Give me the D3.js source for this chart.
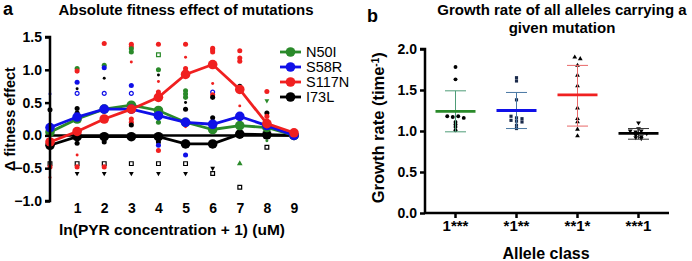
<!DOCTYPE html>
<html>
<head>
<meta charset="utf-8">
<script src="https://cdn.jsdelivr.net/npm/d3@7"></script>
<style>
  body { margin: 0; background: #fff; }
  text { font-family: "Liberation Sans", Arial, sans-serif; }
</style>
</head>
<body>
<div id="chart"></div>
<script>
// Panel a data: mean fitness effect per ln(PYR + 1)
const concentrations = [0, 1, 2, 3, 4, 5, 6, 7, 8, 9];
const n50i  = [0.05, 0.25, 0.40, 0.46, 0.38, 0.20, 0.09, 0.15, 0.12, 0.00];
const s58r  = [0.12, 0.28, 0.40, 0.40, 0.30, 0.20, 0.17, 0.29, 0.15, 0.00];
const s117n = [-0.10, 0.06, 0.25, 0.40, 0.58, 0.93, 1.08, 0.70, 0.18, 0.04];
const i73l  = [-0.15, -0.02, -0.02, -0.02, -0.02, -0.13, -0.13, 0.02, 0.01, 0.00];
const mutationNames = ["N50I", "S58R", "S117N", "I73L"];

// individual alleles: [concentration, value, mutation, marker]
const replicatePoints = [
  [0, 0.39, "I73L", "dot"], [0, 0.63, "S58R", "small"], [0, -0.43, "I73L", "square"],
  [0, -0.48, "S117N", "dot"], [0, -0.64, "S117N", "small"],
  [1, 1.02, "N50I", "dot"], [1, 0.98, "S117N", "dot"], [1, 0.81, "S58R", "dot"],
  [1, 0.71, "I73L", "small"], [1, 0.64, "S58R", "open"], [1, 0.41, "I73L", "dot"],
  [1, 0.34, "I73L", "dot"], [1, -0.12, "I73L", "dot"], [1, -0.30, "S117N", "small"],
  [1, -0.43, "I73L", "square"], [1, -0.48, "S117N", "dot"], [1, -0.58, "I73L", "tri"],
  [2, 1.40, "S117N", "dot"], [2, 1.07, "N50I", "dot"], [2, 1.03, "S58R", "dot"],
  [2, 0.87, "I73L", "small"], [2, 0.64, "S58R", "open"], [2, 0.40, "I73L", "dot"],
  [2, -0.10, "I73L", "dot"], [2, -0.43, "I73L", "square"], [2, -0.48, "S117N", "dot"],
  [2, -0.58, "I73L", "tri"],
  [3, 1.39, "S117N", "dot"], [3, 1.35, "S117N", "dot"], [3, 1.32, "N50I", "dot"],
  [3, 1.27, "N50I", "dot"], [3, 1.12, "S117N", "small"], [3, 0.76, "S58R", "dot"],
  [3, 0.64, "S58R", "open"], [3, 0.38, "I73L", "dot"], [3, 0.25, "S117N", "dot"],
  [3, 0.20, "S117N", "dot"], [3, 0.16, "I73L", "dot"], [3, -0.43, "I73L", "square"],
  [3, -0.58, "I73L", "tri"],
  [4, 1.39, "S117N", "dot"], [4, 1.23, "N50I", "square"], [4, 1.00, "N50I", "dot"],
  [4, 0.92, "I73L", "small"], [4, 0.82, "S117N", "small"], [4, 0.66, "S117N", "dot"],
  [4, 0.38, "I73L", "dot"], [4, 0.20, "N50I", "dot"], [4, -0.10, "I73L", "dot"],
  [4, -0.15, "S58R", "dot"], [4, -0.23, "S117N", "dot"], [4, -0.43, "I73L", "square"],
  [4, -0.58, "I73L", "tri"],
  [5, 1.39, "S117N", "dot"], [5, 1.19, "S117N", "small"], [5, 1.02, "S117N", "dot"],
  [5, 0.97, "S117N", "dot"], [5, 0.68, "N50I", "dot"], [5, 0.63, "N50I", "dot"],
  [5, 0.58, "N50I", "dot"], [5, 0.50, "I73L", "small"], [5, 0.40, "I73L", "dot"],
  [5, 0.13, "S117N", "small"], [5, -0.10, "S58R", "dot"], [5, -0.30, "S58R", "dot"],
  [5, -0.43, "I73L", "square"], [5, -0.58, "I73L", "tri"],
  [6, 1.33, "S117N", "dot"], [6, 1.30, "S117N", "dot"], [6, 1.27, "S117N", "dot"],
  [6, 0.79, "S117N", "small"], [6, 0.66, "S58R", "open"], [6, 0.62, "S117N", "dot"],
  [6, 0.58, "I73L", "dot"], [6, 0.27, "I73L", "dot"], [6, -0.50, "I73L", "tri"],
  [6, -0.58, "I73L", "square"],
  [7, 1.29, "S117N", "dot"], [7, 1.18, "S117N", "dot"], [7, 1.13, "S117N", "dot"],
  [7, 0.75, "I73L", "dot"], [7, 0.45, "S117N", "small"], [7, -0.43, "N50I", "triup"],
  [7, -0.79, "I73L", "square"],
  [8, 0.67, "S117N", "dot"], [8, 0.53, "N50I", "tri"], [8, 0.34, "I73L", "dot"],
  [8, 0.29, "S117N", "dot"], [8, -0.08, "N50I", "small"], [8, -0.18, "I73L", "square"],
  [9, 0.06, "S117N", "dot"], [9, -0.03, "I73L", "small"]
];

// Panel b data: growth rate by allele class
const alleleClasses = ["1***", "*1**", "**1*", "***1"];
const classMeans = [1.24, 1.25, 1.44, 0.97];
const classLower = [0.99, 1.03, 1.06, 0.90];
const classUpper = [1.49, 1.47, 1.80, 1.03];
const class1Rates = [1.78, 1.63, 1.18, 1.17, 1.18, 1.16, 1.11, 1.08, 1.05, 1.01];
const class2Rates = [1.65, 1.61, 1.38, 1.18, 1.16, 1.15, 1.13, 1.12, 1.11, 1.07, 1.03];
const class3Rates = [1.90, 1.88, 1.80, 1.68, 1.55, 1.28, 1.15, 1.11, 1.02, 0.94];
const class4Rates = [1.10, 1.03, 1.00, 0.99, 1.00, 0.97, 0.95, 0.93, 0.92, 0.91];

const colors = { N50I: "#2a8a2a", S58R: "#1010e8", S117N: "#f02020", I73L: "#000000" };
const classColors = ["#2a8a2a", "#1010e8", "#f02020", "#000000"];
const barColors = ["#4f9c78", "#4a78a4", "#e86868", "#333333"];
const classShapes = [d3.symbolCircle, d3.symbolSquare, d3.symbolTriangle, d3.symbolTriangle];

const width = 692, height = 261;

const svg = d3.select("#chart").append("svg")
  .attr("width", width)
  .attr("height", height);

// ---------- Panel a ----------
const xA = d3.scaleLinear().domain([0, 9]).range([50, 294]);
const yA = d3.scaleLinear().domain([-1, 1.5]).range([201, 37]);

svg.append("text").attr("x", 3).attr("y", 15)
  .style("font-size", "18px").style("font-weight", "bold").text("a");
svg.append("text").attr("x", 186).attr("y", 15).attr("text-anchor", "middle")
  .style("font-size", "15px").style("font-weight", "bold")
  .text("Absolute fitness effect of mutations");

const gA = svg.append("g");

// replicate points
const markerSymbol = {
  dot: d3.symbolCircle, small: d3.symbolCircle, open: d3.symbolCircle,
  square: d3.symbolSquare, tri: d3.symbolTriangle, triup: d3.symbolTriangle
};
const markerSize = { dot: 20, small: 7, open: 12, square: 14, tri: 10, triup: 14 };

gA.selectAll("path.rep")
  .data(replicatePoints)
  .enter().append("path")
  .attr("class", "rep")
  .attr("d", d => d3.symbol().type(markerSymbol[d[3]]).size(markerSize[d[3]])())
  .attr("transform", d => `translate(${xA(d[0])},${yA(d[1])})` + (d[3] === "tri" ? " rotate(180)" : ""))
  .attr("fill", d => (d[3] === "open" || d[3] === "square") ? "#fff" : colors[d[2]])
  .attr("stroke", d => (d[3] === "open" || d[3] === "square") ? colors[d[2]] : "none")
  .attr("stroke-width", 1.2);

// zero line
gA.append("line")
  .attr("x1", xA(0)).attr("x2", xA(9) + 3)
  .attr("y1", yA(0)).attr("y2", yA(0))
  .attr("stroke", "#000").attr("stroke-width", 2.5);

const seriesA = [
  { name: "I73L", values: i73l },
  { name: "N50I", values: n50i },
  { name: "S58R", values: s58r },
  { name: "S117N", values: s117n }
];

const lineA = d3.line()
  .x((d, i) => xA(concentrations[i]))
  .y(d => yA(d));

seriesA.forEach(s => {
  gA.append("path")
    .datum(s.values)
    .attr("fill", "none")
    .attr("stroke", colors[s.name])
    .attr("stroke-width", 2.8)
    .attr("d", lineA);
  gA.selectAll(null)
    .data(s.values)
    .enter().append("circle")
    .attr("cx", (d, i) => xA(concentrations[i]))
    .attr("cy", d => yA(d))
    .attr("r", 4.8)
    .attr("fill", colors[s.name]);
});

// y axis
const yAxisA = gA.append("g")
  .attr("transform", `translate(${xA(0)},0)`)
  .call(d3.axisLeft(yA).tickValues([-1, -0.5, 0, 0.5, 1, 1.5]).tickFormat(d3.format(".1f")).tickSize(5).tickPadding(3));
yAxisA.select(".domain").attr("stroke-width", 2.5).attr("d", `M-5,${yA(-1)}H0V${yA(1.5)}H-5`);
yAxisA.selectAll(".tick line").attr("stroke-width", 2.5);
yAxisA.selectAll("text").style("font-size", "14px").style("font-weight", "bold")
  .style("font-family", "Liberation Sans, Arial, sans-serif");

// x tick labels (no axis line, GraphPad style)
const xAxisA = gA.append("g")
  .attr("transform", `translate(0,${yA(-1) - 2})`)
  .call(d3.axisBottom(xA).tickValues(concentrations.slice(1)).tickSize(0).tickPadding(4));
xAxisA.select(".domain").remove();
xAxisA.selectAll("text").style("font-size", "14px").style("font-weight", "bold")
  .style("font-family", "Liberation Sans, Arial, sans-serif");

svg.append("text").attr("x", 172).attr("y", 235).attr("text-anchor", "middle")
  .style("font-size", "15.5px").style("font-weight", "bold")
  .text("ln(PYR concentration + 1) (uM)");
svg.append("text")
  .attr("transform", `translate(15,${yA(0.25)}) rotate(-90)`)
  .attr("text-anchor", "middle")
  .style("font-size", "14.5px").style("font-weight", "bold")
  .text("\u0394 fitness effect");

// legend
const legend = svg.append("g").attr("transform", "translate(280,52)");
mutationNames.forEach((name, i) => {
  const row = legend.append("g").attr("transform", `translate(0,${i * 15})`);
  row.append("line").attr("x1", 0).attr("x2", 21).attr("y1", 0).attr("y2", 0)
    .attr("stroke", colors[name]).attr("stroke-width", 2.8);
  row.append("circle").attr("cx", 10.5).attr("cy", 0).attr("r", 4.8).attr("fill", colors[name]);
  row.append("text").attr("x", 26).attr("y", 5)
    .style("font-size", "14.5px").text(name);
});

// ---------- Panel b ----------
const xB = d3.scaleBand().domain(alleleClasses).range([425, 669]);
const yB = d3.scaleLinear().domain([0, 2]).range([213, 49]);

svg.append("text").attr("x", 367).attr("y", 22)
  .style("font-size", "18px").style("font-weight", "bold").text("b");
svg.append("text").attr("x", 562).attr("y", 15).attr("text-anchor", "middle")
  .style("font-size", "15px").style("font-weight", "bold")
  .text("Growth rate of all alleles carrying a");
svg.append("text").attr("x", 562).attr("y", 33).attr("text-anchor", "middle")
  .style("font-size", "15px").style("font-weight", "bold")
  .text("given mutation");

const gB = svg.append("g");
const classRates = [class1Rates, class2Rates, class3Rates, class4Rates];

// spread points sharing a similar value side by side
function spread(values) {
  const binW = 0.045;
  const bins = d3.group(values.map((v, i) => ({ v, i })), d => Math.round(d.v / binW));
  const offsets = new Array(values.length).fill(0);
  bins.forEach(items => {
    items.forEach((it, k) => { offsets[it.i] = (k - (items.length - 1) / 2) * 5.5; });
  });
  return offsets;
}

alleleClasses.forEach((c, ci) => {
  const cx = xB(c) + xB.bandwidth() / 2;
  const offs = spread(classRates[ci]);
  gB.selectAll(null)
    .data(classRates[ci])
    .enter().append("path")
    .attr("d", d3.symbol().type(classShapes[ci]).size(ci === 0 ? 12 : 10)())
    .attr("transform", (d, i) => `translate(${cx + offs[i]},${yB(d)})` + (ci === 3 ? " rotate(180)" : ""))
    .attr("fill", ci === 1 ? "#1a2a4a" : "#000");

  // error bar
  gB.append("line").attr("x1", cx).attr("x2", cx)
    .attr("y1", yB(classLower[ci])).attr("y2", yB(classUpper[ci]))
    .attr("stroke", barColors[ci]).attr("stroke-width", 1);
  [classLower[ci], classUpper[ci]].forEach(v => {
    gB.append("line").attr("x1", cx - 10.5).attr("x2", cx + 10.5)
      .attr("y1", yB(v)).attr("y2", yB(v))
      .attr("stroke", barColors[ci]).attr("stroke-width", 1);
  });
  // mean bar
  gB.append("line").attr("x1", cx - 20).attr("x2", cx + 20)
    .attr("y1", yB(classMeans[ci])).attr("y2", yB(classMeans[ci]))
    .attr("stroke", classColors[ci]).attr("stroke-width", 2.8);
});

const yAxisB = gB.append("g")
  .attr("transform", "translate(425,0)")
  .call(d3.axisLeft(yB).tickValues([0, 0.5, 1, 1.5, 2]).tickFormat(d3.format(".1f")).tickSize(5).tickPadding(3));
yAxisB.select(".domain").attr("stroke-width", 2.5).attr("d", `M0,${yB(0)}V${yB(2)}H-5`);
yAxisB.selectAll(".tick line").attr("stroke-width", 2.5);
yAxisB.selectAll("text").style("font-size", "14px").style("font-weight", "bold")
  .style("font-family", "Liberation Sans, Arial, sans-serif");

const xAxisB = gB.append("g")
  .attr("transform", `translate(0,${yB(0)})`)
  .call(d3.axisBottom(xB).tickSize(5).tickPadding(2));
xAxisB.select(".domain").attr("stroke-width", 2.5).attr("d", `M425,0H669`);
xAxisB.selectAll(".tick line").attr("stroke-width", 2.5);
xAxisB.selectAll("text").style("font-size", "15px").style("font-weight", "bold")
  .style("font-family", "Liberation Sans, Arial, sans-serif");

svg.append("text").attr("x", 546).attr("y", 259).attr("text-anchor", "middle")
  .style("font-size", "16px").style("font-weight", "bold")
  .text("Allele class");

const yTitleB = svg.append("text")
  .attr("transform", `translate(384,${yB(1.04)}) rotate(-90)`)
  .attr("text-anchor", "middle")
  .style("font-size", "16.5px").style("font-weight", "bold");
yTitleB.append("tspan").text("Growth rate (time");
yTitleB.append("tspan").attr("baseline-shift", "super").style("font-size", "10px").text("-1");
yTitleB.append("tspan").text(")");
</script>
</body>
</html>
